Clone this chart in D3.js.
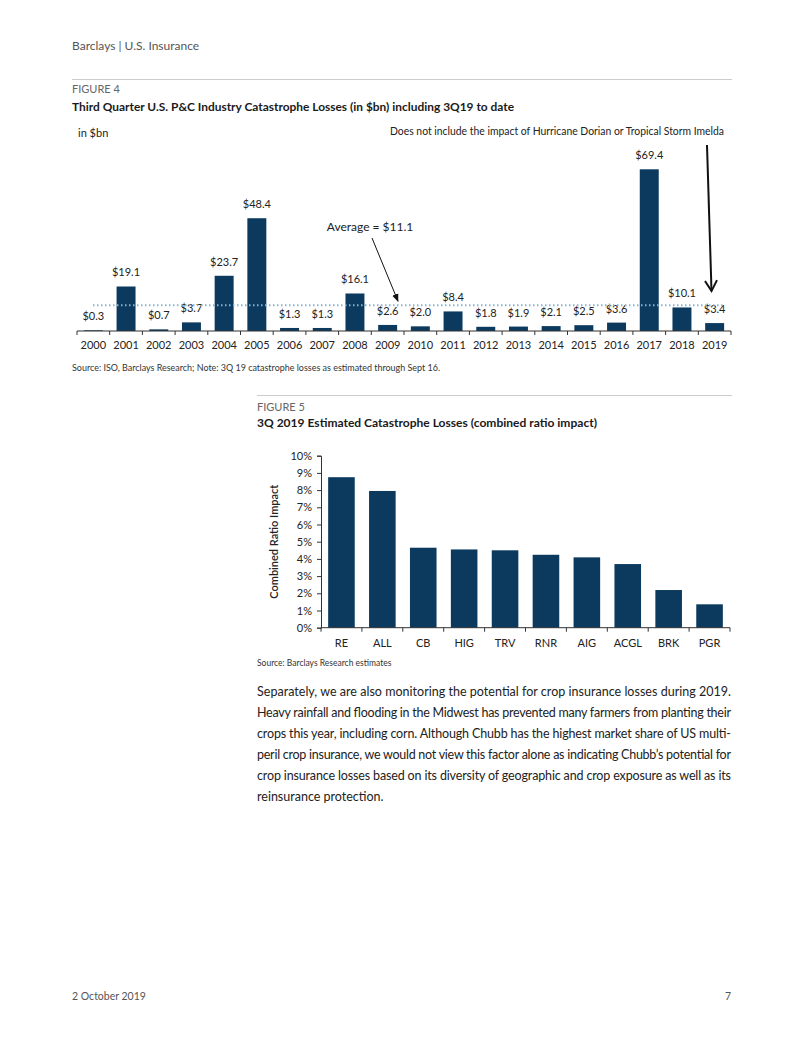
<!DOCTYPE html>
<html><head><meta charset="utf-8">
<script src="https://cdn.jsdelivr.net/npm/d3@7"></script>
<style>
html,body{margin:0;padding:0;background:#fff;}
svg text{font-family:Lato,"Noto Sans",sans-serif;}
</style></head>
<body>
<svg id="page" width="802" height="1037"></svg>
<script>
// ---------- DATA ----------
const years = ["2000","2001","2002","2003","2004","2005","2006","2007","2008","2009","2010","2011","2012","2013","2014","2015","2016","2017","2018","2019"];
const losses = [0.3,19.1,0.7,3.7,23.7,48.4,1.3,1.3,16.1,2.6,2.0,8.4,1.8,1.9,2.1,2.5,3.6,69.4,10.1,3.4];
const averageLoss = 11.1;

const companies = ["RE","ALL","CB","HIG","TRV","RNR","AIG","ACGL","BRK","PGR"];
const ratioImpact = [8.75,7.95,4.65,4.55,4.5,4.24,4.09,3.7,2.19,1.36];
const pctTicks = [0,1,2,3,4,5,6,7,8,9,10];

const paragraph = [
 "Separately, we are also monitoring the potential for crop insurance losses during 2019.",
 "Heavy rainfall and flooding in the Midwest has prevented many farmers from planting their",
 "crops this year, including corn. Although Chubb has the highest market share of US multi-",
 "peril crop insurance, we would not view this factor alone as indicating Chubb\u2019s potential for",
 "crop insurance losses based on its diversity of geographic and crop exposure as well as its",
 "reinsurance protection."
];

// ---------- PAGE ----------
const BAR = "#0b3a5e";
const svg = d3.select("#page");
svg.append("rect").attr("width",802).attr("height",1037).attr("fill","#fff");

function txt(x,y,s,o={}){
  const t = svg.append("text").attr("x",x).attr("y",y).text(s)
    .attr("font-size",o.size||11).attr("fill",o.fill||"#222")
    .attr("text-anchor",o.anchor||"start");
  if(o.weight) t.attr("font-weight",o.weight);
  return t;
}

// header
txt(72,50,"Barclays | U.S. Insurance",{size:12,fill:"#555"});
svg.append("line").attr("x1",72).attr("x2",732).attr("y1",79.5).attr("y2",79.5).attr("stroke","#ccc");
txt(72,93,"FIGURE 4",{size:11,fill:"#666"});
txt(72,111,"Third Quarter U.S. P&C Industry Catastrophe Losses (in $bn) including 3Q19 to date",{size:12,weight:700,fill:"#1a1a1a"})
  .attr("textLength",442).attr("lengthAdjust","spacingAndGlyphs");

// ---------- FIGURE 4 ----------
const x1 = d3.scaleBand().domain(years).range([77,731]).paddingInner(0.42).paddingOuter(0.21);
const y1 = d3.scaleLinear().domain([0,69.4]).range([331,169.3]);

txt(78,137,"in $bn",{size:11});
txt(724,135,"Does not include the impact of Hurricane Dorian or Tropical Storm Imelda",{size:10.6,anchor:"end"})
  .attr("textLength",334).attr("lengthAdjust","spacingAndGlyphs");

const g1 = svg.append("g");
g1.selectAll("rect").data(losses).join("rect")
  .attr("x",(d,i)=>x1(years[i])).attr("width",x1.bandwidth())
  .attr("y",d=>y1(d)).attr("height",d=>y1(0)-y1(d)).attr("fill",BAR);

g1.selectAll("text.v").data(losses).join("text").attr("class","v")
  .attr("x",(d,i)=>x1(years[i])+x1.bandwidth()/2).attr("y",d=>y1(d)-10)
  .attr("text-anchor","middle").attr("font-size",11).attr("fill","#222")
  .text(d=>"$"+d.toFixed(1));

// x axis
const ax1 = svg.append("g").attr("transform","translate(0,331)");
ax1.append("line").attr("x1",77).attr("x2",731).attr("stroke","#333").attr("stroke-width",1.2);
const bstep = x1.step();
ax1.selectAll("line.t").data(d3.range(years.length+1)).join("line").attr("class","t")
  .attr("x1",i=>77+i*bstep).attr("x2",i=>77+i*bstep).attr("y1",0).attr("y2",4).attr("stroke","#333");
ax1.selectAll("text").data(years).join("text")
  .attr("x",d=>x1(d)+x1.bandwidth()/2).attr("y",18).attr("text-anchor","middle")
  .attr("font-size",11).attr("fill","#222").text(d=>d);

// average line
svg.append("line").attr("x1",93).attr("x2",724).attr("y1",y1(averageLoss)).attr("y2",y1(averageLoss))
  .attr("stroke","#86b3d6").attr("stroke-width",2).attr("stroke-dasharray","1.5,2.5");

// annotations
const defs = svg.append("defs");
defs.append("marker").attr("id","tri").attr("viewBox","0 0 10 10").attr("refX",9).attr("refY",5)
  .attr("markerWidth",8).attr("markerHeight",8).attr("orient","auto")
  .append("path").attr("d","M0,1 L10,5 L0,9 Z").attr("fill","#111");
txt(370,231,"Average = $11.1",{size:12,anchor:"middle"});
svg.append("line").attr("x1",372).attr("y1",238).attr("x2",398).attr("y2",y1(averageLoss)-4)
  .attr("stroke","#111").attr("stroke-width",1).attr("marker-end","url(#tri)");

const ax19 = 709;
svg.append("line").attr("x1",ax19-2).attr("y1",145).attr("x2",ax19+2.5).attr("y2",y1(3.4)-32)
  .attr("stroke","#111").attr("stroke-width",2);
svg.append("path").attr("d",`M${ax19-4},${y1(3.4)-42} L${ax19+2.5},${y1(3.4)-32} L${ax19+8},${y1(3.4)-43}`)
  .attr("fill","none").attr("stroke","#111").attr("stroke-width",2);

txt(72,371,"Source: ISO, Barclays Research; Note: 3Q 19 catastrophe losses as estimated through Sept 16.",{size:8.5,fill:"#333"})
  .attr("textLength",368).attr("lengthAdjust","spacingAndGlyphs");

// ---------- FIGURE 5 ----------
svg.append("line").attr("x1",257).attr("x2",732).attr("y1",395.5).attr("y2",395.5).attr("stroke","#ccc");
txt(257,411,"FIGURE 5",{size:11,fill:"#666"});
txt(257,427,"3Q 2019 Estimated Catastrophe Losses (combined ratio impact)",{size:12,weight:700,fill:"#1a1a1a"})
  .attr("textLength",340).attr("lengthAdjust","spacingAndGlyphs");

const x2 = d3.scaleBand().domain(companies).range([321,730]).paddingInner(0.35).paddingOuter(0.175);
const y2 = d3.scaleLinear().domain([0,10]).range([627.7,455.7]);

svg.append("g").selectAll("rect").data(ratioImpact).join("rect")
  .attr("x",(d,i)=>x2(companies[i])).attr("width",x2.bandwidth())
  .attr("y",d=>y2(d)).attr("height",d=>y2(0)-y2(d)).attr("fill",BAR);

const yAx = svg.append("g").attr("transform","translate(321,0)")
  .call(d3.axisLeft(y2).tickValues(pctTicks).tickSize(4).tickFormat(d=>d+"%"));
yAx.select(".domain").attr("stroke","#333");
yAx.selectAll(".tick line").attr("stroke","#333");
yAx.selectAll(".tick text").attr("font-size",11).attr("fill","#222").attr("font-family","Lato,'Noto Sans',sans-serif").attr("x",-9);

const xAx = svg.append("g").attr("transform","translate(0,627.7)");
xAx.append("line").attr("x1",321).attr("x2",730).attr("stroke","#333");
const s2 = x2.step();
xAx.selectAll("line.t").data(d3.range(companies.length+1)).join("line").attr("class","t")
  .attr("x1",i=>321+i*s2).attr("x2",i=>321+i*s2).attr("y1",0).attr("y2",4).attr("stroke","#333");
xAx.selectAll("text").data(companies).join("text")
  .attr("x",d=>x2(d)+x2.bandwidth()/2).attr("y",19).attr("text-anchor","middle")
  .attr("font-size",11).attr("fill","#222").text(d=>d);

svg.append("text").attr("transform","translate(278,541.7) rotate(-90)")
  .attr("text-anchor","middle").attr("font-size",11).attr("font-weight",600).attr("fill","#222")
  .text("Combined Ratio Impact");

txt(257,666,"Source: Barclays Research estimates",{size:8.5,fill:"#333"});

// paragraph
paragraph.forEach((line,i)=>{
  const t = txt(257,696+i*21,line,{size:12.5,fill:"#222"});
  if(i<paragraph.length-1) t.attr("textLength",474).attr("lengthAdjust","spacing");
});

// footer
txt(72,1000,"2 October 2019",{size:10.5,fill:"#555"});
txt(731,1000,"7",{size:10.5,fill:"#555",anchor:"end"});
</script>
</body></html>
